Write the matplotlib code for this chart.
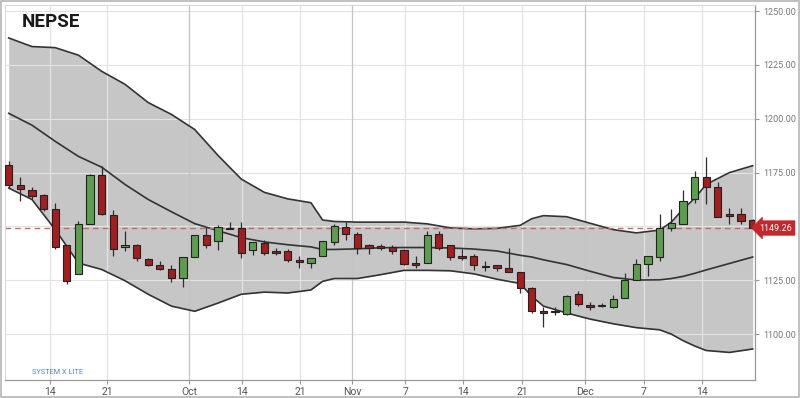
import numpy as np
import matplotlib
matplotlib.use("Agg")
import matplotlib.pyplot as plt
from matplotlib.patches import Rectangle
import matplotlib.transforms as mtransforms

# daily candles (trading days, index 0..64)
opens = [1178.7, 1169.4, 1167.0, 1164.4, 1158.0, 1141.2, 1128.1, 1151.2, 1173.9, 1155.4,
         1140.4, 1141.4, 1135.0, 1132.3, 1130.4, 1126.2, 1135.8, 1146.2, 1143.2, 1149.5,
         1149.4, 1138.9, 1142.4, 1138.4, 1138.4, 1134.6, 1133.2, 1136.1, 1142.7, 1149.7,
         1146.6, 1141.3, 1140.7, 1140.4, 1138.9, 1133.0, 1133.2, 1146.3, 1141.2, 1136.4,
         1136.3, 1131.8, 1132.0, 1130.7, 1128.8, 1121.2, 1110.8, 1110.8, 1109.5, 1118.4,
         1113.6, 1113.6, 1112.6, 1117.0, 1125.0, 1132.4, 1135.8, 1149.4, 1151.3, 1162.8,
         1172.8, 1168.2, 1155.6, 1155.9, 1152.8]
highs = [1180.2, 1172.8, 1168.2, 1165.1, 1160.8, 1141.2, 1152.5, 1174.5, 1178.2, 1157.7,
         1148.1, 1141.7, 1135.3, 1133.8, 1132.3, 1135.8, 1146.2, 1149.7, 1150.5, 1152.0,
         1152.0, 1142.6, 1143.5, 1140.1, 1139.7, 1136.1, 1135.3, 1143.2, 1151.3, 1152.0,
         1147.4, 1142.0, 1142.0, 1141.2, 1139.5, 1136.1, 1147.7, 1147.7, 1141.2, 1139.4,
         1137.0, 1133.8, 1132.0, 1140.1, 1128.9, 1121.9, 1112.6, 1112.4, 1118.1, 1120.2,
         1114.8, 1114.5, 1118.1, 1128.4, 1135.0, 1136.1, 1155.6, 1158.2, 1166.7, 1175.6,
         1182.1, 1170.5, 1158.5, 1158.5, 1153.5]
lows = [1167.9, 1162.0, 1162.8, 1157.1, 1139.7, 1123.1, 1127.8, 1151.0, 1155.5, 1136.1,
        1138.4, 1133.8, 1131.5, 1129.8, 1124.4, 1121.9, 1135.8, 1140.1, 1139.2, 1148.8,
        1135.5, 1136.6, 1136.6, 1136.6, 1133.5, 1130.9, 1130.9, 1136.1, 1141.5, 1143.8,
        1137.4, 1137.0, 1138.9, 1137.4, 1132.0, 1130.9, 1133.2, 1139.2, 1134.3, 1134.3,
        1130.0, 1129.3, 1129.3, 1128.9, 1118.9, 1109.6, 1103.4, 1108.8, 1109.0, 1113.0,
        1111.1, 1112.4, 1111.9, 1117.0, 1125.0, 1126.9, 1133.9, 1148.1, 1151.3, 1160.8,
        1160.5, 1154.3, 1150.9, 1151.3, 1149.26]
closes = [1169.4, 1167.4, 1164.0, 1158.2, 1140.4, 1124.7, 1150.9, 1173.9, 1155.9, 1139.7,
          1141.4, 1135.3, 1132.3, 1130.4, 1126.1, 1135.8, 1146.2, 1141.2, 1149.7, 1148.8,
          1137.6, 1142.6, 1137.6, 1137.5, 1134.3, 1133.3, 1135.3, 1143.2, 1150.0, 1146.6,
          1140.1, 1140.1, 1139.9, 1138.6, 1132.4, 1132.3, 1145.8, 1140.1, 1135.8, 1135.5,
          1132.0, 1131.2, 1130.7, 1128.9, 1121.6, 1110.8, 1110.0, 1110.2, 1117.9, 1113.8,
          1112.8, 1113.0, 1116.5, 1125.0, 1132.7, 1136.1, 1149.4, 1151.5, 1162.0, 1173.1,
          1168.2, 1154.3, 1155.0, 1152.5, 1149.26]

# bollinger bands read at selected candle indices
band_idx = [0, 2, 4, 6, 8, 10, 12, 14, 16, 18, 20, 22, 24, 26, 27, 28, 30, 32, 34, 36,
            38, 40, 42, 44, 45, 46, 48, 50, 52, 54, 56, 57, 58, 59, 60, 62, 64]
upper_band = [1237.5, 1233.5, 1233.0, 1229.5, 1222.0, 1216.0, 1207.5, 1202.0, 1195.0, 1183.0,
              1172.0, 1165.8, 1162.8, 1161.0, 1153.0, 1152.3, 1152.0, 1152.0, 1152.0, 1151.2,
              1149.3, 1148.9, 1149.1, 1150.5, 1153.6, 1155.0, 1154.5, 1151.5, 1148.5, 1147.0,
              1148.3, 1152.0, 1158.0, 1163.0, 1169.5, 1175.0, 1178.2]
middle_band = [1202.5, 1197.0, 1189.5, 1182.5, 1177.5, 1169.5, 1162.5, 1156.8, 1151.3, 1148.0,
               1144.8, 1142.8, 1141.5, 1140.5, 1139.3, 1139.3, 1139.6, 1140.1, 1140.2, 1140.2,
               1140.0, 1139.5, 1138.6, 1136.6, 1135.8, 1134.5, 1132.3, 1129.2, 1126.3, 1125.1,
               1125.2, 1125.8, 1126.8, 1128.2, 1129.8, 1132.8, 1135.8]
lower_band = [1167.8, 1162.5, 1148.5, 1133.0, 1130.0, 1124.8, 1118.5, 1113.0, 1110.6, 1114.4,
              1118.5, 1119.5, 1119.1, 1120.5, 1124.5, 1125.8, 1125.8, 1127.6, 1129.6, 1129.6,
              1129.4, 1128.0, 1125.5, 1123.5, 1117.5, 1113.0, 1109.8, 1107.0, 1104.8, 1103.0,
              1102.0, 1100.0, 1097.0, 1094.5, 1092.4, 1091.5, 1093.1]

tick_pos = [3.55, 8.46, 15.51, 20.08, 25.07, 29.52, 34.1, 39.12, 44.15, 49.54, 54.61, 59.64]
tick_labels = ["14", "21", "Oct", "14", "21", "Nov", "7", "14", "21", "Dec", "7", "14"]
month_labels = ["Oct", "Nov", "Dec"]

y_ticks = [1100, 1125, 1150, 1175, 1200, 1225, 1250]
last_price = 1149.26

RED = "#a51d1f"
GREEN = "#5c9e4e"

plt.rcParams["font.family"] = ["Roboto", "DejaVu Sans"]

fig = plt.figure(figsize=(8.0, 3.98), dpi=100)
ax = fig.add_axes([5 / 800, 18 / 398, 750 / 800, 375 / 398])

# band
ax.fill_between(band_idx, lower_band, upper_band, color="#c6c6c6", lw=0, zorder=1)

# grid on top of the band fill
for v in y_ticks:
    ax.axhline(v, color="#e3e3e3", lw=0.8, zorder=1.5)
for p, lab in zip(tick_pos, tick_labels):
    c = "#c4c4c4" if lab in month_labels else "#e3e3e3"
    ax.axvline(p, color=c, lw=0.9, zorder=1.5)

ax.plot(band_idx, upper_band, color="#333333", lw=1.2, zorder=2)
ax.plot(band_idx, middle_band, color="#333333", lw=1.2, zorder=2)
ax.plot(band_idx, lower_band, color="#333333", lw=1.2, zorder=2)

# last price dashed line
ax.axhline(last_price, color="#c66a66", lw=1.0, ls=(0, (4, 3)), zorder=2.5)

# candles
o = np.array(opens)
c = np.array(closes)
h = np.array(highs)
l = np.array(lows)
x = np.arange(len(o))
up = c >= o
colors = np.where(up, GREEN, RED)
ax.vlines(x, l, h, color="#2e2e2e", lw=0.9, zorder=3)
body_lo = np.minimum(o, c)
body_h = np.maximum(np.abs(c - o), 0.6)
ax.bar(x, body_h, bottom=body_lo, width=0.62, color=colors,
       edgecolor="#222222", linewidth=0.8, zorder=4)

ax.set_xlim(-0.32, 64.2)
ax.set_ylim(1078.7, 1252.8)

ax.set_xticks(tick_pos)
ax.set_xticklabels(tick_labels)
ax.yaxis.tick_right()
ax.set_yticks(y_ticks)
ax.set_yticklabels(["" if v == 1150 else f"{v:.2f}" for v in y_ticks])
ax.tick_params(axis="x", length=3, color="#999999", labelsize=7.5, labelcolor="#555555", pad=2)
ax.tick_params(axis="y", length=3, color="#999999", labelsize=6.5, labelcolor="#777777", pad=3)

for s in ["top", "left"]:
    ax.spines[s].set_color("#d8d8d8")
    ax.spines[s].set_linewidth(0.8)
for s in ["right", "bottom"]:
    ax.spines[s].set_color("#999999")
    ax.spines[s].set_linewidth(0.9)

# price tag on the right axis
trans = mtransforms.blended_transform_factory(ax.transAxes, ax.transData)
ax.text(1.006, last_price, f"{last_price:.2f}", transform=trans, ha="left", va="center",
        fontsize=6.5, color="white", zorder=6, clip_on=False,
        bbox=dict(boxstyle="larrow,pad=0.3", fc="#c4262b", ec="#c4262b", lw=0.5))

fig.text(22 / 800, 1 - 22 / 398, "NEPSE", fontsize=13.5, fontweight="bold",
         color="#1a1a1a", ha="left", va="center")
fig.text(32 / 800, 1 - 372 / 398, "SYSTEM X LITE", fontsize=5.3, color="#4f82d6",
         ha="left", va="center")

# outer frame
fig.patches.append(Rectangle((0.001, 0.002), 0.998, 0.996, transform=fig.transFigure,
                             fill=False, ec="#b5b5b5", lw=1.2))

fig.savefig("out.png", dpi=100)
